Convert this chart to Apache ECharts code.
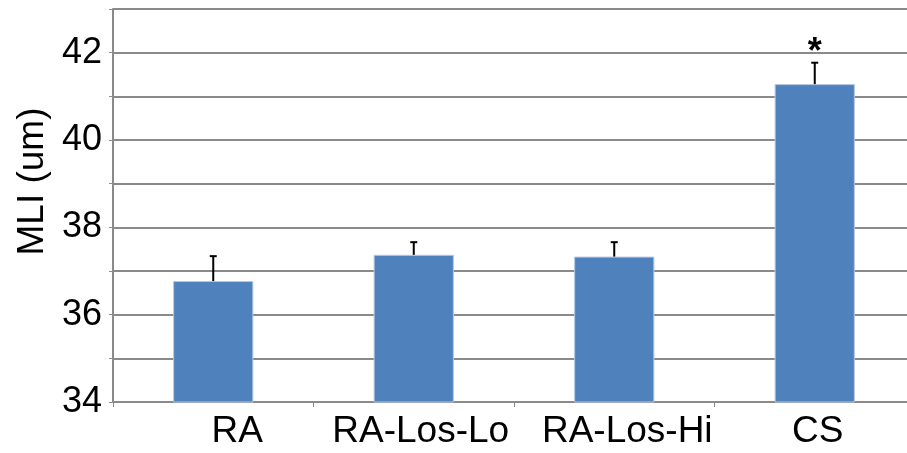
<!DOCTYPE html>
<html>
<head>
<meta charset="utf-8">
<script src="https://cdn.jsdelivr.net/npm/echarts@6/dist/echarts.min.js"></script>
<style>
  html, body { margin: 0; padding: 0; background: #fff; }
  #chart { width: 907px; height: 453px; }
</style>
</head>
<body>
<div id="chart"></div>
<script>
// Mean linear intercept per group, with upper SEM bars
const categories = ['RA', 'RA-Los-Lo', 'RA-Los-Hi', 'CS'];
const mli = [36.77, 37.37, 37.33, 41.28];
const sem = [0.57, 0.29, 0.33, 0.49];
const significance = ['', '', '', '*'];

const FONT = "'Liberation Sans', Arial, sans-serif";
const GRID_GREY = '#8a8a8a';
// horizontal nudges (px) for each category label
const labelShift = [24, 7, 13, 3];

const rich = {};
labelShift.forEach((s, i) => {
  rich['c' + i] = {
    fontSize: 37, fontFamily: FONT, color: '#000',
    padding: s >= 0 ? [0, 0, 0, 2 * s] : [0, -2 * s, 0, 0]
  };
});

const chart = echarts.init(document.getElementById('chart'), null, { renderer: 'canvas' });

chart.setOption({
  animation: false,
  backgroundColor: '#fff',
  // plot area runs slightly past the right edge of the canvas
  grid: { left: 113, width: 802, top: 9, bottom: 51, containLabel: false, outerBoundsMode: 'none' },
  xAxis: {
    type: 'category',
    data: categories,
    axisLine: { show: true, lineStyle: { color: GRID_GREY, width: 2 } },
    axisTick: { show: true, length: 5, lineStyle: { color: GRID_GREY, width: 1 } },
    axisLabel: {
      margin: 11,
      formatter: (v, i) => '{c' + i + '|' + v + '}',
      rich: rich
    },
    splitLine: { show: false }
  },
  yAxis: {
    type: 'value',
    min: 34,
    max: 43,
    interval: 1,
    name: 'MLI (um)',
    nameLocation: 'middle',
    nameRotate: 90,
    nameGap: 62,
    nameTextStyle: { fontSize: 37, fontFamily: FONT, color: '#000', padding: [0, 0, 0, 48] },
    axisLine: { show: true, lineStyle: { color: GRID_GREY, width: 2 } },
    axisTick: { show: true, length: 4, lineStyle: { color: GRID_GREY, width: 1 } },
    axisLabel: {
      margin: 11,
      fontSize: 36,
      fontFamily: FONT,
      color: '#000',
      formatter: v => (v % 2 === 0 && v < 43 ? String(v) : '')
    },
    splitLine: { show: true, lineStyle: { color: GRID_GREY, width: 2 } }
  },
  series: [
    {
      type: 'bar',
      data: mli,
      barWidth: '40%',
      itemStyle: { color: '#4F81BD', borderColor: '#b4c8e3', borderWidth: 1 },
      z: 2
    },
    {
      type: 'custom',
      z: 3,
      data: mli.map((m, i) => [i, m, m + sem[i], significance[i]]),
      encode: { x: 0, y: [1, 2] },
      renderItem: (params, api) => {
        const i = api.value(0);
        const base = api.coord([i, api.value(1)]);
        const top = api.coord([i, api.value(2)]);
        const capHalf = 3.5;
        const children = [
          { type: 'line', shape: { x1: base[0], y1: base[1], x2: top[0], y2: top[1] },
            style: { stroke: '#000', lineWidth: 2 } },
          { type: 'line', shape: { x1: top[0] - capHalf, y1: top[1], x2: top[0] + capHalf, y2: top[1] },
            style: { stroke: '#000', lineWidth: 2 } }
        ];
        const mark = significance[params.dataIndex];
        if (mark) {
          children.push({
            type: 'text',
            style: {
              text: mark, x: top[0], y: top[1] - 10,
              align: 'center', verticalAlign: 'middle',
              font: 'bold 36px ' + FONT, fill: '#000'
            }
          });
        }
        return { type: 'group', children: children };
      }
    }
  ]
});
</script>
</body>
</html>
